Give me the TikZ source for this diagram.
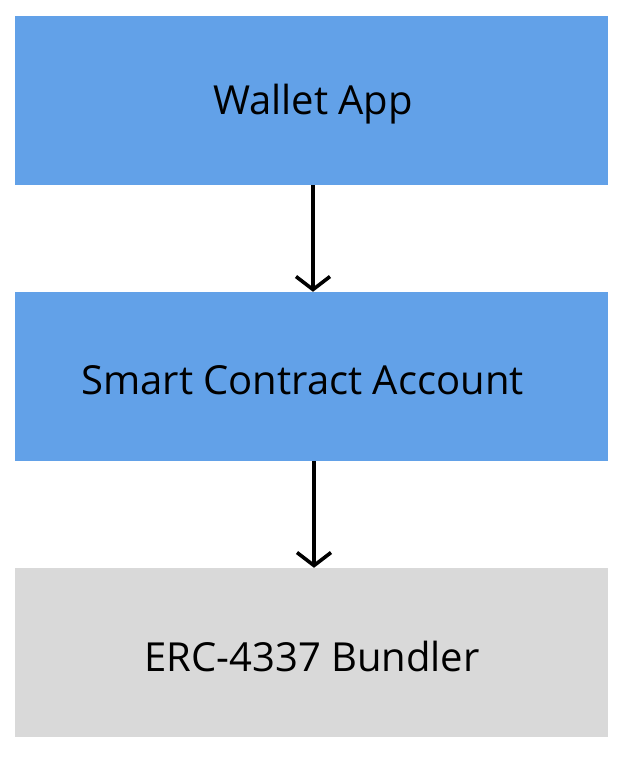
\documentclass[tikz,border=0pt]{standalone}
\usepackage{fontspec}
\setmainfont{Open Sans}
\usetikzlibrary{arrows.meta}
\definecolor{boxblue}{HTML}{62A1E8}
\definecolor{boxgray}{HTML}{D9D9D9}
\begin{document}
\begin{tikzpicture}[x=1pt,y=-1pt,
  box/.style={minimum width=593pt,minimum height=169pt,inner sep=0pt},
  lbl/.style={inner sep=0pt,font=\fontsize{40}{47}\selectfont},
  flow/.style={line width=3.6pt,-{Straight Barb[length=13pt,width=34pt,line width=3.6pt]}}]
\useasboundingbox[fill=white] (0,0) rectangle (624,758);
\node[box,fill=boxblue] (wallet) at (311.5,100.5) {};
\node[lbl] (walletT) at (313,104) {Wallet App};
\node[box,fill=boxblue] (sca) at (311.5,376.5) {};
\node[lbl] (scaT) at (302.5,380) {Smart Contract Account};
\node[box,fill=boxgray] (bundler) at (311.5,652.5) {};
\node[lbl] (bundlerT) at (312,656) {ERC-4337 Bundler};
\draw[flow] (wallet.south -| 313,0) -- (sca.north -| 313,0);
\draw[flow] (sca.south -| 314,0) -- (bundler.north -| 314,0);
\end{tikzpicture}
\end{document}
